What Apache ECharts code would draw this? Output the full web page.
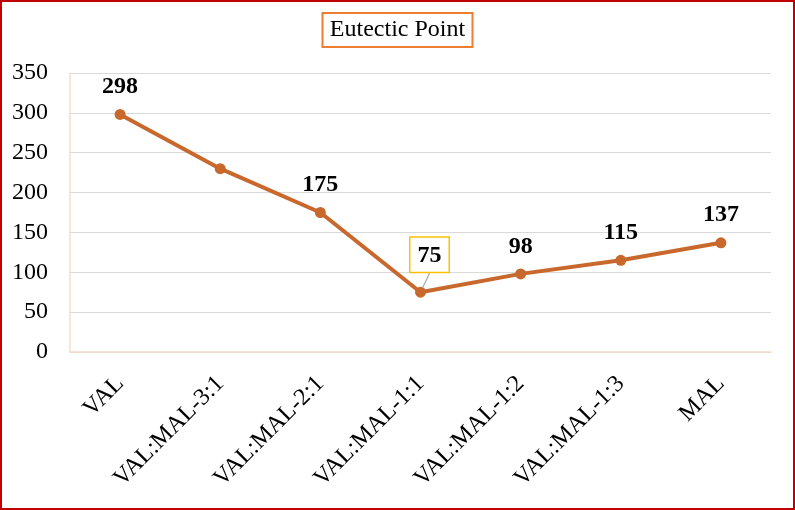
<!DOCTYPE html>
<html><head><meta charset="utf-8">
<script src="https://cdn.jsdelivr.net/npm/echarts@6/dist/echarts.min.js"></script>
<style>
html,body{margin:0;padding:0;background:#fff;}
#frame{width:795px;height:510px;box-sizing:border-box;border:2px solid #c00000;position:relative;}
#c{position:absolute;left:-2px;top:-2px;width:795px;height:510px;}
</style></head><body>
<div id="frame"><div id="c"></div></div>
<script>
const categories = ['VAL','VAL:MAL-3:1','VAL:MAL-2:1','VAL:MAL-1:1','VAL:MAL-1:2','VAL:MAL-1:3','MAL'];
const values = [298, 230, 175, 75, 98, 115, 137];
const yTicks = [0, 50, 100, 150, 200, 250, 300, 350];
const shownLabels = [true, false, true, true, true, true, true];
const boxedIndex = 3;
const font = 'Liberation Serif, Times New Roman, serif';

const chart = echarts.init(document.getElementById('c'));
const data = values.map((v, i) => {
  const item = { value: v, label: { show: shownLabels[i] } };
  if (i === boxedIndex) {
    item.label = {
      show: true, distance: 14,
      borderColor: '#ffc000', borderWidth: 1.5, padding: [6, 7, 4, 7],
      backgroundColor: '#fff'
    };
    item.labelLine = { show: true, lineStyle: { color: '#a6a6a6', width: 1.2 } };
  }
  return item;
});
chart.setOption({
  animation: false,
  title: {
    text: 'Eutectic Point', left: 'center', top: 13,
    textStyle: { fontFamily: font, fontSize: 24, fontWeight: 'normal', color: '#000' },
    borderColor: '#ed7d31', borderWidth: 2, padding: [5, 8, 5, 8]
  },
  grid: { left: 70, right: 24, top: 73, bottom: 158 },
  xAxis: {
    type: 'category', data: categories, boundaryGap: true,
    axisLine: { show: true, lineStyle: { color: '#f5dcc8', width: 1.5 } },
    axisTick: { show: false },
    axisLabel: { rotate: 45, fontFamily: font, fontSize: 24, color: '#000', margin: 28, interval: 0 }
  },
  yAxis: {
    type: 'value', min: yTicks[0], max: yTicks[yTicks.length - 1], interval: 50,
    axisLine: { show: true, lineStyle: { color: '#f5dcc8', width: 1.5 } },
    axisTick: { show: false },
    splitLine: { lineStyle: { color: '#d9d9d9', width: 1.2 } },
    axisLabel: { fontFamily: font, fontSize: 24, color: '#000', margin: 22 }
  },
  series: [{
    type: 'line', data: data,
    symbol: 'circle', symbolSize: 11,
    lineStyle: { color: '#c8682c', width: 4 },
    itemStyle: { color: '#c8682c' },
    label: { show: true, position: 'top', distance: 10, fontFamily: font, fontSize: 24, fontWeight: 'bold', color: '#000' },
    labelLayout: function (p) { return p.dataIndex === boxedIndex ? { dx: 9, dy: -1 } : {}; }
  }]
});
</script>
</body></html>
